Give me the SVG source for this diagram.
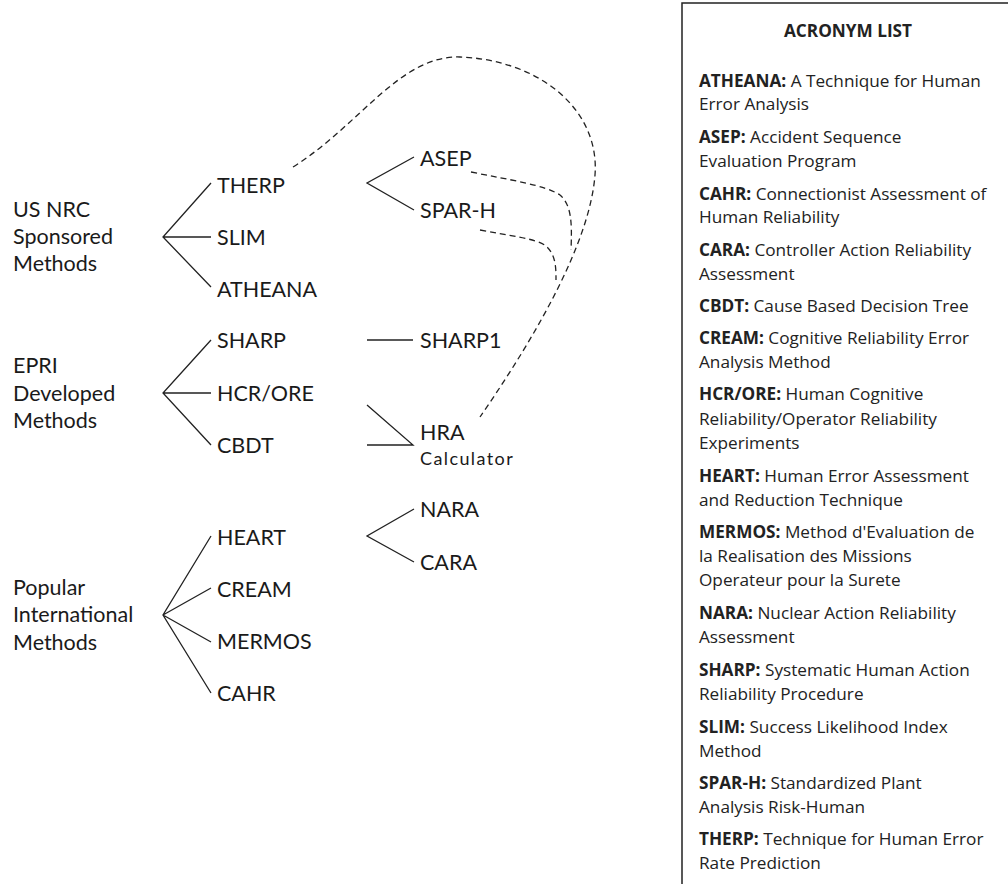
<svg xmlns="http://www.w3.org/2000/svg" width="1008" height="884" viewBox="0 0 1008 884">
<style>
.t{font-family:Lato,"Liberation Sans",sans-serif;font-size:21.5px;fill:#1a1a1a}
.s{font-size:18px;letter-spacing:1.4px}
.a{font-family:"Open Sans","Liberation Sans",sans-serif;font-size:17.2px;fill:#222}
.b{font-weight:bold}
.ln{stroke:#222;stroke-width:1.3;fill:none}
.ds{stroke:#222;stroke-width:1.3;fill:none;stroke-dasharray:6 4}
</style>
<rect width="1008" height="884" fill="#fff"/>
<g id="connectors">
<path class="ln" d="M211,183 L163,237 L211,287 M163,237 H211"/>
<path class="ln" d="M211,340 L163,393 L211,445 M163,393 H211"/>
<path class="ln" d="M211,536 L163,615 L211,693 M163,615 L211,588 M163,615 L211,642"/>
<path class="ln" d="M414,157 L367,183 L414,210"/>
<path class="ln" d="M367,340 H413"/>
<path class="ln" d="M367,405 L413,445 H367"/>
<path class="ln" d="M414,509 L367,536 L414,562"/>
<path class="ds" d="M293,167 C360,125 400,55 460,57 C540,60 600,110 595,175 C590,240 540,330 480,417"/>
<path class="ds" d="M471,172 C510,180 545,185 560,195 C572,205 572,225 571,250"/>
<path class="ds" d="M480,230 C510,236 535,238 546,246 C556,255 556,268 556,280"/>
</g>
<g id="group-usnrc"><text class="t" x="13" y="217">US NRC</text><text class="t" x="13" y="244">Sponsored</text><text class="t" x="13" y="271">Methods</text></g>
<g id="group-epri"><text class="t" x="13" y="373">EPRI</text><text class="t" x="13" y="401">Developed</text><text class="t" x="13" y="428">Methods</text></g>
<g id="group-intl"><text class="t" x="13" y="595">Popular</text><text class="t" x="13" y="622">International</text><text class="t" x="13" y="650">Methods</text></g>
<g id="therp"><text class="t" x="217" y="193">THERP</text></g>
<g id="slim"><text class="t" x="217" y="245">SLIM</text></g>
<g id="atheana"><text class="t" x="217" y="297">ATHEANA</text></g>
<g id="sharp"><text class="t" x="217" y="348">SHARP</text></g>
<g id="hcrore"><text class="t" x="217" y="401">HCR/ORE</text></g>
<g id="cbdt"><text class="t" x="217" y="453">CBDT</text></g>
<g id="heart"><text class="t" x="217" y="545">HEART</text></g>
<g id="cream"><text class="t" x="217" y="597">CREAM</text></g>
<g id="mermos"><text class="t" x="217" y="649">MERMOS</text></g>
<g id="cahr"><text class="t" x="217" y="701">CAHR</text></g>
<g id="asep"><text class="t" x="420" y="166">ASEP</text></g>
<g id="sparh"><text class="t" x="420" y="218">SPAR-H</text></g>
<g id="sharp1"><text class="t" x="420" y="348">SHARP1</text></g>
<g id="hra"><text class="t" x="420" y="440">HRA</text><text class="t s" x="420" y="465">Calculator</text></g>
<g id="nara"><text class="t" x="420" y="517">NARA</text></g>
<g id="cara"><text class="t" x="420" y="570">CARA</text></g>
<g id="acronym-list">
<path d="M682,890 V3 H1010" fill="none" stroke="#222" stroke-width="1.5"/>
<text class="a b" x="848" y="37" text-anchor="middle">ACRONYM LIST</text>
<text class="a" x="699" y="87"><tspan class="b">ATHEANA:</tspan> A Technique for Human</text>
<text class="a" x="699" y="110">Error Analysis</text>
<text class="a" x="699" y="143"><tspan class="b">ASEP:</tspan> Accident Sequence</text>
<text class="a" x="699" y="167">Evaluation Program</text>
<text class="a" x="699" y="200"><tspan class="b">CAHR:</tspan> Connectionist Assessment of</text>
<text class="a" x="699" y="223">Human Reliability</text>
<text class="a" x="699" y="256"><tspan class="b">CARA:</tspan> Controller Action Reliability</text>
<text class="a" x="699" y="280">Assessment</text>
<text class="a" x="699" y="312"><tspan class="b">CBDT:</tspan> Cause Based Decision Tree</text>
<text class="a" x="699" y="344"><tspan class="b">CREAM:</tspan> Cognitive Reliability Error</text>
<text class="a" x="699" y="368">Analysis Method</text>
<text class="a" x="699" y="400"><tspan class="b">HCR/ORE:</tspan> Human Cognitive</text>
<text class="a" x="699" y="425">Reliability/Operator Reliability</text>
<text class="a" x="699" y="449">Experiments</text>
<text class="a" x="699" y="482"><tspan class="b">HEART:</tspan> Human Error Assessment</text>
<text class="a" x="699" y="506">and Reduction Technique</text>
<text class="a" x="699" y="538"><tspan class="b">MERMOS:</tspan> Method d'Evaluation de</text>
<text class="a" x="699" y="562">la Realisation des Missions</text>
<text class="a" x="699" y="586">Operateur pour la Surete</text>
<text class="a" x="699" y="619"><tspan class="b">NARA:</tspan> Nuclear Action Reliability</text>
<text class="a" x="699" y="643">Assessment</text>
<text class="a" x="699" y="676"><tspan class="b">SHARP:</tspan> Systematic Human Action</text>
<text class="a" x="699" y="700">Reliability Procedure</text>
<text class="a" x="699" y="733"><tspan class="b">SLIM:</tspan> Success Likelihood Index</text>
<text class="a" x="699" y="757">Method</text>
<text class="a" x="699" y="789"><tspan class="b">SPAR-H:</tspan> Standardized Plant</text>
<text class="a" x="699" y="813">Analysis Risk-Human</text>
<text class="a" x="699" y="845"><tspan class="b">THERP:</tspan> Technique for Human Error</text>
<text class="a" x="699" y="869">Rate Prediction</text>
</g>
</svg>
